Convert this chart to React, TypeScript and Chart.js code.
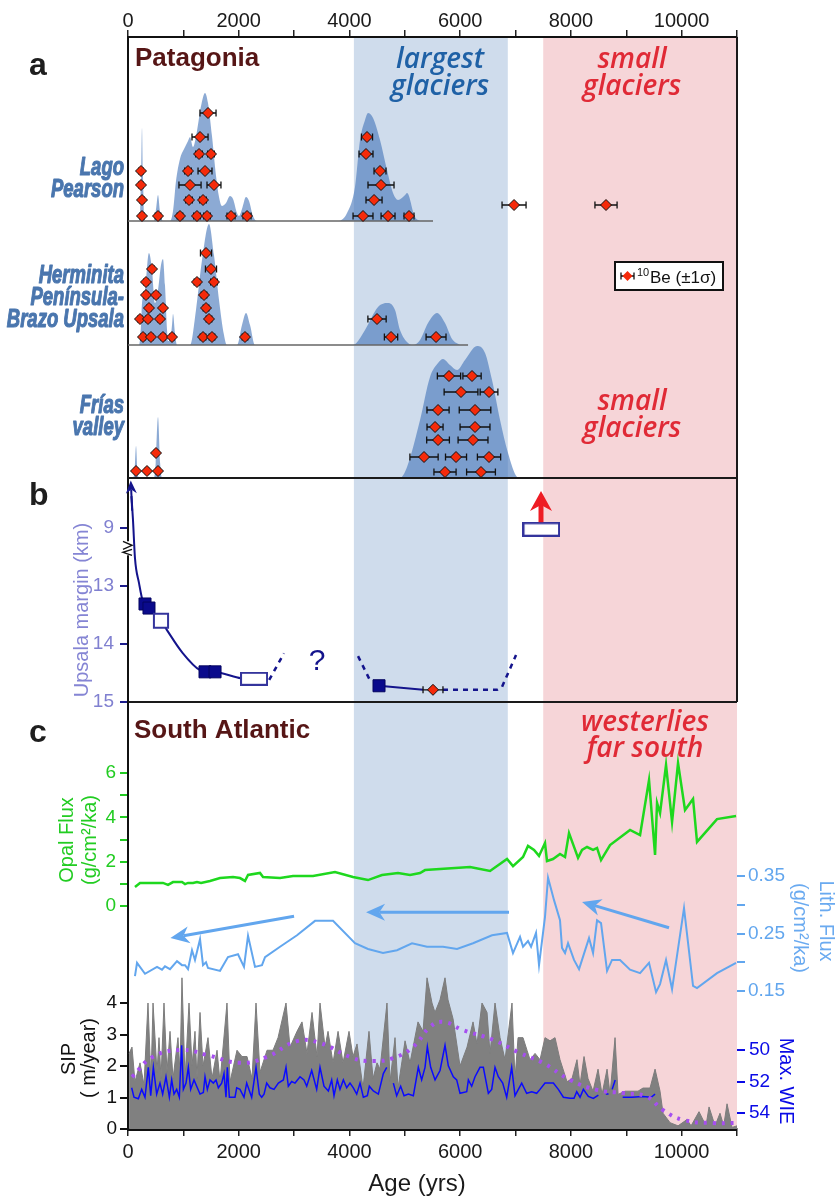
import React, { useEffect, useRef } from 'react';
import { Chart, registerables } from 'chart.js';

Chart.register(...registerables);

// ---------------- ticks ----------------
const ageTicks = [0, 1000, 2000, 3000, 4000, 5000, 6000, 7000, 8000, 9000, 10000, 11000];
const upsalaTicks = [12, 13, 14, 15]; // 12 is printed as "9" (broken axis)
const opalTicks = [0, 1, 2, 3, 4, 5, 6];
const lithTicks = [0.15, 0.2, 0.25, 0.3, 0.35];
const sipTicks = [0, 1, 2, 3, 4];
const wieTicks = [50, 52, 54];

// ---------------- shaded periods (yrs) ----------------
const largestGlaciersPeriod = [4080, 6860];
const smallGlaciersPeriod = [7500, 11000];

// ---------------- panel a: probability density (relative) ----------------
const lagoPearsonPdf = [
  [0, 0], [208, 0], [235, 0.45], [253, 0.93], [271, 0.45], [298, 0], [470, 0], [506, 0.12], [542, 0.26], [578, 0.1], [632, 0],
  [759, 0], [813, 0.1], [867, 0.4], [939, 0.62], [1012, 0.72], [1084, 0.8], [1120, 0.84], [1174, 0.74], [1246, 0.9], [1319, 1.15],
  [1391, 1.28], [1445, 1.18], [1517, 0.85], [1590, 0.45], [1644, 0.24], [1698, 0.15], [1770, 0.18], [1843, 0.25], [1897, 0.22],
  [1969, 0.08], [2005, 0.05], [2059, 0.12], [2132, 0.24], [2186, 0.2], [2258, 0.05], [2330, 0], [3793, 0], [3956, 0.08],
  [4100, 0.34], [4191, 0.81], [4281, 1.01], [4335, 1.08], [4426, 1.03], [4552, 0.81], [4678, 0.51], [4787, 0.28], [4877, 0.21],
  [5004, 0.26], [5040, 0.28], [5184, 0.04], [5275, 0],
];
const herminitaPdf = [
  [0, 0], [199, 0], [235, 0.2], [253, 0.42], [307, 0.55], [361, 0.88], [379, 0.92], [434, 0.75], [488, 0.42], [542, 0.55],
  [596, 0.8], [632, 0.86], [668, 0.6], [705, 0.15], [723, 0.04], [759, 0.04], [795, 0.2], [813, 0.31], [849, 0.12], [885, 0],
  [1120, 0], [1228, 0.35], [1337, 0.85], [1463, 1.21], [1553, 0.9], [1644, 0.45], [1734, 0.1], [1788, 0], [1969, 0], [2059, 0.2],
  [2132, 0.32], [2204, 0.2], [2294, 0], [4064, 0], [4281, 0.15], [4516, 0.38], [4697, 0.42], [4823, 0.35], [4913, 0.15],
  [5058, 0.02], [5148, 0], [5275, 0.05], [5419, 0.22], [5582, 0.32], [5726, 0.22], [5853, 0.06], [5997, 0],
];
const friasPdf = [
  [0, 0], [90, 0], [120, 0.08], [145, 0.32], [170, 0.08], [199, 0], [470, 0], [500, 0.15], [542, 0.61], [580, 0.15], [614, 0],
  [4913, 0], [5040, 0.11], [5275, 0.58], [5455, 1.01], [5600, 1.15], [5690, 1.19], [5816, 1.13], [5943, 1.08], [6087, 1.18],
  [6304, 1.32], [6449, 1.25], [6575, 0.98], [6720, 0.58], [6864, 0.25], [7027, 0.01], [7081, 0],
];
const lagoPearsonEnd = 5509;
const herminitaEnd = 6142;

// ---------------- panel a: 10Be ages [age, stack level, 1 sigma] ----------------
const lagoPearsonAges = [
  [253, 0.05, 40], [542, 0.05, 50], [939, 0.05, 50], [1246, 0.05, 60], [1427, 0.05, 60], [1861, 0.05, 72], [2150, 0.05, 72],
  [4245, 0.05, 180], [4697, 0.05, 126], [5076, 0.05, 90], [6973, 0.16, 217], [8634, 0.16, 200],
  [253, 0.21, 40], [1102, 0.21, 60], [1355, 0.21, 60], [4444, 0.21, 145],
  [235, 0.36, 40], [1120, 0.36, 200], [1553, 0.36, 126], [4570, 0.36, 235],
  [235, 0.5, 40], [1084, 0.5, 60], [1391, 0.5, 126], [4552, 0.5, 108],
  [1283, 0.67, 60], [1499, 0.67, 60], [4299, 0.67, 126],
  [1301, 0.84, 145], [4317, 0.84, 100], [1445, 1.08, 145],
];
const herminitaAges = [
  [271, 0.08, 40], [415, 0.08, 40], [632, 0.08, 40], [795, 0.08, 40], [1355, 0.08, 50], [1517, 0.08, 50], [2113, 0.08, 50],
  [4751, 0.08, 120], [5564, 0.08, 180],
  [217, 0.26, 40], [361, 0.26, 40], [578, 0.26, 40], [1463, 0.26, 50], [4498, 0.26, 165],
  [379, 0.37, 40], [632, 0.37, 40], [1409, 0.37, 50],
  [325, 0.5, 40], [506, 0.5, 40], [1373, 0.5, 50],
  [325, 0.63, 40], [1246, 0.63, 50], [1553, 0.63, 60],
  [434, 0.76, 40], [1499, 0.76, 100], [1409, 0.92, 100],
];
const friasAges = [
  [145, 0.07, 30], [343, 0.07, 30], [542, 0.07, 30], [506, 0.25, 30],
  [5726, 0.06, 200], [6376, 0.06, 260],
  [5347, 0.21, 255], [5925, 0.21, 190], [6521, 0.21, 210],
  [5600, 0.38, 205], [6232, 0.38, 270],
  [5546, 0.51, 145], [6268, 0.51, 270],
  [5600, 0.68, 200], [6268, 0.68, 285],
  [6015, 0.86, 305], [6521, 0.86, 160],
  [5798, 1.02, 210], [6214, 1.02, 165],
];

// ---------------- panel b: Upsala margin (km, axis broken above 13) ----------------
const upsalaCurve = [
  [62, 11.45], [90, 11.86], [126, 12.52], [199, 12.95], [271, 13.28], [343, 13.36], [596, 13.6], [704, 13.76],
  [975, 14.14], [1301, 14.45], [1481, 14.48], [1680, 14.5], [2041, 14.59], [2276, 14.6],
];
const upsalaLate = [[4534, 14.72], [5330, 14.79]];
const upsalaDash1 = [[2550, 14.62], [2818, 14.16]];
const upsalaDash2 = [[4155, 14.21], [4389, 14.66]];
const upsalaDash3 = [[5690, 14.79], [6665, 14.79], [6755, 14.74], [7009, 14.19]];
const upsalaFilled = [[307, 13.31], [379, 13.38], [1391, 14.48], [1572, 14.48], [4534, 14.72]];
const upsalaOpen = [[596, 13.6]];
const upsalaOpenWide = [[2276, 14.6], [7460, 12.02]];
const upsalaBe = [[5509, 14.79, 180]];

// ---------------- panel c ----------------
const opalFlux = [
  [126, 0.86], [217, 1.04], [343, 1.04], [524, 1.04], [632, 1.04], [723, 0.95], [813, 1.08], [975, 1.08], [1030, 0.99], [1084, 1.04],
  [1174, 1.04], [1246, 1.08], [1319, 1.04], [1481, 1.13], [1662, 1.26], [1897, 1.31], [2023, 1.26], [2113, 1.13], [2168, 1.4],
  [2384, 1.49], [2439, 1.31], [2746, 1.26], [2981, 1.35], [3342, 1.35], [3739, 1.53], [4064, 1.31], [4335, 1.17], [4588, 1.4],
  [4877, 1.49], [5094, 1.4], [5275, 1.49], [5365, 1.62], [5636, 1.67], [6178, 1.76], [6539, 1.58], [6846, 2.12], [6954, 1.8],
  [7135, 2.21], [7225, 2.71], [7334, 2.53], [7424, 2.26], [7532, 2.84], [7568, 2.03], [7677, 2.12], [7803, 2.35], [7894, 2.21],
  [7966, 3.29], [8129, 2.17], [8201, 2.53], [8291, 2.66], [8400, 2.53], [8472, 2.62], [8544, 2.07], [8707, 2.75], [9068, 3.43],
  [9249, 3.2], [9411, 5.68], [9520, 2.3], [9556, 4.65], [9610, 4.19], [9718, 6.36], [9827, 3.79], [9935, 6.45], [10061, 4.33],
  [10206, 4.83], [10278, 2.89], [10639, 3.92], [10983, 4.06],
];
const lithFlux = [
  [126, 0.176], [163, 0.199], [307, 0.18], [524, 0.192], [614, 0.187], [668, 0.193], [759, 0.188], [885, 0.202], [975, 0.195],
  [1030, 0.195], [1084, 0.188], [1156, 0.221], [1210, 0.204], [1301, 0.24], [1355, 0.195], [1409, 0.2], [1445, 0.19], [1662, 0.185],
  [1806, 0.209], [1987, 0.214], [2095, 0.192], [2168, 0.246], [2294, 0.192], [2420, 0.195], [2475, 0.209], [2746, 0.227],
  [3053, 0.247], [3378, 0.272], [3703, 0.272], [4100, 0.233], [4335, 0.223], [4606, 0.216], [4859, 0.221], [5130, 0.233],
  [5401, 0.227], [5690, 0.227], [5943, 0.223], [6232, 0.233], [6575, 0.247], [6846, 0.251], [6954, 0.216], [7081, 0.244],
  [7135, 0.227], [7225, 0.237], [7280, 0.227], [7370, 0.251], [7424, 0.195], [7532, 0.279], [7587, 0.347], [7695, 0.308],
  [7803, 0.273], [7839, 0.225], [7894, 0.216], [7948, 0.233], [8056, 0.204], [8147, 0.188], [8327, 0.242], [8400, 0.216],
  [8472, 0.273], [8544, 0.268], [8653, 0.185], [8743, 0.204], [8887, 0.204], [9068, 0.187], [9249, 0.181], [9411, 0.199],
  [9538, 0.148], [9610, 0.162], [9718, 0.204], [9827, 0.153], [10043, 0.294], [10206, 0.159], [10278, 0.155], [10639, 0.181],
  [10983, 0.199],
];
const lithArrows = [
  { from: [2999, 0.28], to: [766, 0.242] },
  { from: [6882, 0.287], to: [4300, 0.287] },
  { from: [9772, 0.26], to: [8201, 0.305] },
];
const sipArea = [
  [20, 2.4], [72, 2.6], [126, 1.5], [217, 2.1], [289, 1.4], [361, 4.0], [415, 1.5], [452, 4.0], [524, 1.8], [560, 2.9], [596, 1.6],
  [650, 4.0], [704, 1.8], [759, 3.1], [813, 1.6], [903, 2.9], [939, 1.8], [975, 4.8], [1030, 1.6], [1102, 4.0], [1156, 2.0],
  [1210, 3.1], [1246, 1.6], [1301, 3.7], [1355, 2.0], [1445, 2.9], [1517, 1.6], [1608, 2.5], [1662, 1.5], [1788, 4.0], [1843, 1.5],
  [1969, 2.5], [2059, 2.3], [2150, 2.3], [2240, 1.6], [2312, 4.0], [2384, 1.8], [2511, 2.5], [2619, 2.5], [2710, 2.9], [2854, 4.0],
  [2926, 2.6], [3053, 3.1], [3143, 3.4], [3233, 2.4], [3324, 3.7], [3414, 2.3], [3468, 4.0], [3559, 2.6], [3613, 3.1], [3703, 2.1],
  [3794, 3.1], [3884, 2.1], [3992, 3.1], [4064, 2.3], [4137, 2.7], [4245, 1.3], [4353, 3.1], [4426, 1.6], [4498, 2.1], [4552, 1.9],
  [4678, 4.0], [4733, 1.5], [4823, 2.9], [4877, 1.3], [5004, 2.8], [5094, 2.1], [5238, 3.4], [5329, 3.1], [5401, 4.8], [5491, 4.0],
  [5545, 3.7], [5636, 4.1], [5726, 4.8], [5780, 4.1], [5871, 3.5], [5997, 2.0], [6124, 2.6], [6232, 3.4], [6304, 2.7], [6394, 4.0],
  [6485, 3.7], [6539, 2.4], [6629, 4.0], [6720, 2.9], [6810, 2.2], [6936, 4.0], [6990, 1.6], [7045, 2.9], [7135, 2.9], [7207, 2.5],
  [7262, 2.2], [7352, 2.4], [7442, 2.2], [7532, 2.9], [7623, 2.8], [7713, 2.9], [7803, 2.2], [7930, 1.5], [8020, 1.6], [8110, 2.2],
  [8164, 1.4], [8237, 2.3], [8309, 1.6], [8400, 1.2], [8490, 1.9], [8562, 1.1], [8653, 1.9], [8707, 1.1], [8797, 2.9], [8852, 1.1],
  [8978, 1.2], [9068, 1.2], [9212, 1.2], [9302, 1.3], [9429, 1.3], [9520, 1.9], [9610, 1.2], [9664, 0.5], [9791, 0.2], [9935, 0.1],
  [10097, 0.3], [10170, 0.1], [10314, 0.55], [10440, 0.1], [10495, 0.7], [10603, 0.1], [10693, 0.5], [10760, 0.1], [10820, 0.8],
  [10910, 0.05], [11000, 0.1],
];
const sipSmooth = [
  [72, 1.65], [452, 2.29], [975, 2.51], [1427, 2.35], [2023, 2.1], [2511, 2.29], [3053, 2.79], [3468, 2.73], [4064, 2.25],
  [4426, 2.16], [4787, 2.25], [5148, 2.6], [5455, 3.24], [5690, 3.4], [6051, 3.14], [6593, 2.83], [7081, 2.41], [7496, 2.1],
  [7984, 1.56], [8472, 1.24], [8941, 1.14], [9375, 1.02], [9664, 0.6], [10025, 0.29], [10567, 0.19], [10983, 0.19],
];
const maxWie = [
  [66, 52.4], [108, 53.0], [187, 53.1], [247, 52.5], [307, 53.0], [367, 51.1], [410, 52.9], [458, 51.1], [518, 52.8], [578, 52.1],
  [626, 52.8], [686, 51.7], [747, 53.0], [789, 51.9], [831, 52.8], [879, 52.5], [927, 53.0], [969, 49.7], [1000, 52.5], [1048, 52.1],
  [1090, 51.1], [1132, 52.5], [1192, 51.9], [1252, 52.4], [1301, 52.8], [1361, 52.7], [1391, 51.7], [1433, 52.5], [1481, 51.9],
  [1541, 52.1], [1590, 51.9], [1632, 52.4], [1692, 52.1], [1734, 51.5], [1770, 53.0], [1794, 51.1], [1831, 53.0], [1933, 53.0],
  [1963, 52.4], [2023, 52.5], [2095, 53.0], [2144, 52.1], [2234, 53.0], [2312, 51.1], [2372, 52.8], [2415, 53.0], [2457, 52.8],
  [2505, 52.1], [2565, 52.4], [2637, 52.5], [2716, 52.1], [2806, 51.9], [2854, 51.1], [2896, 52.3], [2956, 52.0], [3017, 52.1],
  [3107, 51.7], [3179, 51.9], [3228, 52.3], [3318, 51.3], [3408, 52.5], [3468, 51.1], [3540, 52.3], [3619, 52.6], [3679, 51.9],
  [3721, 52.9], [3781, 51.9], [3829, 52.5], [3890, 51.9], [3950, 52.4], [4010, 52.1], [4070, 52.4], [4131, 52.8], [4191, 52.1],
  [4251, 53.0], [4323, 52.9], [4359, 52.3], [4431, 52.6], [4522, 52.8], [4612, 51.5], [4673, 51.1], [4730, null], [4793, 52.1],
  [4853, 52.9], [4925, 52.3], [4986, 52.9], [5064, 52.8], [5154, 52.9], [5244, 51.1], [5304, 51.9], [5365, 51.1], [5407, 49.8],
  [5467, 51.1], [5546, 51.9], [5636, 51.3], [5726, 49.7], [5786, 51.0], [5876, 51.7], [5937, 51.9], [5997, 52.75], [6118, 52.65],
  [6148, 51.9], [6208, 52.3], [6268, 51.7], [6358, 51.1], [6418, 51.1], [6509, 52.75], [6569, 52.5], [6629, 51.1], [6689, 51.7],
  [6768, 52.1], [6840, 53.0], [6930, 51.1], [6990, 52.9], [7051, 52.5], [7111, 52.1], [7201, 52.75], [7292, 52.65], [7382, 52.75],
  [7442, 52.5], [7532, 52.1], [7683, 52.1], [7773, 52.5], [7864, 53.0], [7984, 53.07], [8056, 53.07], [8105, 52.65], [8165, 53.0],
  [8225, 52.5], [8315, 52.95], [8405, 53.07], [8496, 52.86], [8560, null], [8630, 52.8], [8680, 52.8], [8710, null], [8745, 52.5],
  [8800, 51.9], [8860, null], [8935, 53.0], [9100, 53.0], [9300, 52.95], [9450, 53.0], [9520, 52.8],
];

// ---------------- layout helpers ----------------
const SANS = "'Liberation Sans', Arial, Helvetica, sans-serif";
const HUMAN = "'Open Sans', 'Noto Sans', sans-serif";
const AREA_TOP = 37;
const AREA_BOTTOM = 1129;

function rangeFrom(v1: number, p1: number, v2: number, p2: number) {
  const k = (v2 - v1) / (p2 - p1);
  const atTop = v1 + (AREA_TOP - p1) * k;
  const atBottom = v1 + (AREA_BOTTOM - p1) * k;
  return atTop > atBottom
    ? { min: atBottom, max: atTop, reverse: false }
    : { min: atTop, max: atBottom, reverse: true };
}

const xy = (a: any[]) => a.map(([x, y]) => ({ x, y }));
const xye = (a: any[]) => a.map(([x, y, e]) => ({ x, y, e }));

function rectImage(w: number, h: number, stroke: string, lw: number) {
  const c = document.createElement('canvas');
  c.width = w + lw;
  c.height = h + lw;
  const g = c.getContext('2d')!;
  g.fillStyle = '#fff';
  g.fillRect(lw / 2, lw / 2, w, h);
  g.strokeStyle = stroke;
  g.lineWidth = lw;
  g.strokeRect(lw / 2, lw / 2, w, h);
  return c;
}

function drawArrow(ctx: any, x0: number, y0: number, x1: number, y1: number, color: string, lw: number, len: number, wid: number) {
  const a = Math.atan2(y1 - y0, x1 - x0);
  const ux = Math.cos(a), uy = Math.sin(a);
  const px = -uy, py = ux;
  ctx.save();
  ctx.strokeStyle = color;
  ctx.fillStyle = color;
  ctx.lineWidth = lw;
  ctx.beginPath();
  ctx.moveTo(x0, y0);
  ctx.lineTo(x1 - ux * len * 0.7, y1 - uy * len * 0.7);
  ctx.stroke();
  ctx.beginPath();
  ctx.moveTo(x1, y1);
  ctx.lineTo(x1 - ux * len + px * wid / 2, y1 - uy * len + py * wid / 2);
  ctx.lineTo(x1 - ux * len * 0.7, y1 - uy * len * 0.7);
  ctx.lineTo(x1 - ux * len - px * wid / 2, y1 - uy * len - py * wid / 2);
  ctx.closePath();
  ctx.fill();
  ctx.restore();
}

function text(ctx: any, s: string, x: number, y: number, font: string, color: string, align = 'left', baseline = 'alphabetic', rot = 0, sx = 1, heavy = 0) {
  ctx.save();
  ctx.translate(x, y);
  ctx.rotate(rot);
  ctx.scale(sx, 1);
  ctx.font = font;
  ctx.fillStyle = color;
  ctx.textAlign = align;
  ctx.textBaseline = baseline;
  ctx.fillText(s, 0, 0);
  if (heavy > 0) {
    ctx.strokeStyle = color;
    ctx.lineWidth = heavy;
    ctx.lineJoin = 'round';
    ctx.strokeText(s, 0, 0);
  }
  ctx.restore();
}

function drawErrorBar(ctx: any, xa: number, xb: number, y: number) {
  ctx.beginPath();
  ctx.moveTo(xa, y); ctx.lineTo(xb, y);
  ctx.moveTo(xa, y - 3.5); ctx.lineTo(xa, y + 3.5);
  ctx.moveTo(xb, y - 3.5); ctx.lineTo(xb, y + 3.5);
  ctx.stroke();
}

const figurePlugin = {
  id: 'figure',
  beforeDraw(chart: any) {
    const { ctx, chartArea: ca, scales } = chart;
    const X = (v: number) => scales.x.getPixelForValue(v);
    ctx.save();
    ctx.fillStyle = '#cfdcec';
    ctx.fillRect(X(largestGlaciersPeriod[0]), ca.top, X(largestGlaciersPeriod[1]) - X(largestGlaciersPeriod[0]), ca.bottom - ca.top);
    ctx.fillStyle = '#f6d5d8';
    ctx.fillRect(X(smallGlaciersPeriod[0]), ca.top, X(smallGlaciersPeriod[1]) - X(smallGlaciersPeriod[0]), ca.bottom - ca.top);
    ctx.restore();
  },
  beforeDatasetDraw(chart: any, args: any) {
    const ds = chart.data.datasets[args.index];
    if (!ds.errorBars) return;
    const { ctx, scales } = chart;
    const ys = scales[ds.yAxisID];
    ctx.save();
    ctx.strokeStyle = '#111';
    ctx.lineWidth = 1.3;
    ds.data.forEach((p: any) => {
      drawErrorBar(ctx, scales.x.getPixelForValue(p.x - p.e), scales.x.getPixelForValue(p.x + p.e), ys.getPixelForValue(p.y));
    });
    ctx.restore();
  },
  afterDatasetsDraw(chart: any) {
    const { ctx, chartArea: ca, scales: s } = chart;
    const X = (v: number) => s.x.getPixelForValue(v);
    const yAB = s.yFV.getPixelForValue(0);
    const yBC = s.yB.getPixelForValue(15);
    ctx.save();
    // frame and panel separators
    ctx.strokeStyle = '#1a1a1a';
    ctx.lineWidth = 2;
    ctx.beginPath();
    ctx.moveTo(ca.left, yAB); ctx.lineTo(ca.right, yAB);
    ctx.moveTo(ca.left, yBC); ctx.lineTo(ca.right, yBC);
    ctx.moveTo(ca.right, ca.top); ctx.lineTo(ca.right, yBC);
    ctx.stroke();

    // broken axis mark
    const yBr = s.yB.getPixelForValue(12.35);
    ctx.fillStyle = '#fff';
    ctx.fillRect(ca.left - 2, yBr - 7, 4, 14);
    ctx.strokeStyle = '#111';
    ctx.lineWidth = 1.4;
    ctx.beginPath();
    ctx.moveTo(ca.left - 5, yBr - 7); ctx.lineTo(ca.left + 4, yBr - 3); ctx.lineTo(ca.left - 5, yBr + 1);
    ctx.moveTo(ca.left + 4, yBr + 1); ctx.lineTo(ca.left - 5, yBr + 4); ctx.lineTo(ca.left + 4, yBr + 7);
    ctx.stroke();

    // arrows in panel b
    drawArrow(ctx, X(75), s.yB.getPixelForValue(11.7), X(50), s.yB.getPixelForValue(11.18), '#14148c', 2, 13, 11);
    drawArrow(ctx, X(7460), s.yB.getPixelForValue(11.9), X(7460), s.yB.getPixelForValue(11.36), '#ee1c24', 5, 20, 22);
    // arrows in panel c
    lithArrows.forEach((a) => {
      drawArrow(ctx, X(a.from[0]), s.yLith.getPixelForValue(a.from[1]), X(a.to[0]), s.yLith.getPixelForValue(a.to[1]), '#62a6ee', 3, 19, 17);
    });

    // "?" in panel b
    text(ctx, '?', X(3414), s.yB.getPixelForValue(14.3), `30px ${SANS}`, '#14148c', 'center', 'middle');

    // panel letters
    text(ctx, 'a', 29, 75, `bold 32px ${SANS}`, '#1e1e1e');
    text(ctx, 'b', 29, 505, `bold 32px ${SANS}`, '#1e1e1e');
    text(ctx, 'c', 29, 742, `bold 32px ${SANS}`, '#1e1e1e');

    // panel headings
    text(ctx, 'Patagonia', 135, 66, `bold 26px ${SANS}`, '#561616');
    text(ctx, 'South Atlantic', 134, 738, `bold 26px ${SANS}`, '#561616');

    const blue = '#1f61a6';
    const red = '#e02a36';
    const ann = `italic 600 28px ${HUMAN}`;
    text(ctx, 'largest', X(5636), 68, ann, blue, 'center');
    text(ctx, 'glaciers', X(5636), 95, ann, blue, 'center');
    text(ctx, 'small', X(9104), 68, ann, red, 'center');
    text(ctx, 'glaciers', X(9104), 95, ann, red, 'center');
    text(ctx, 'small', X(9104), 410, ann, red, 'center');
    text(ctx, 'glaciers', X(9104), 437, ann, red, 'center');
    text(ctx, 'westerlies', X(9339), 731, `italic 600 28px ${HUMAN}`, red, 'center');
    text(ctx, 'far south', X(9339), 757, `italic 600 28px ${HUMAN}`, red, 'center');

    // site labels (condensed, heavy)
    const site = `italic bold 25px ${SANS}`;
    const siteC = '#4a76ae';
    const sq = 0.74;
    const hv = 1.1;
    text(ctx, 'Lago', 124, 175, site, siteC, 'right', 'alphabetic', 0, sq, hv);
    text(ctx, 'Pearson', 124, 197, site, siteC, 'right', 'alphabetic', 0, sq, hv);
    text(ctx, 'Herminita', 124, 283, site, siteC, 'right', 'alphabetic', 0, sq, hv);
    text(ctx, 'Península-', 124, 305, site, siteC, 'right', 'alphabetic', 0, sq, hv);
    text(ctx, 'Brazo Upsala', 124, 327, site, siteC, 'right', 'alphabetic', 0, sq, hv);
    text(ctx, 'Frías', 124, 413, site, siteC, 'right', 'alphabetic', 0, sq, hv);
    text(ctx, 'valley', 124, 435, site, siteC, 'right', 'alphabetic', 0, sq, hv);

    // legend box
    ctx.fillStyle = '#fff';
    ctx.fillRect(615, 262, 108, 28);
    ctx.strokeStyle = '#111';
    ctx.lineWidth = 2;
    ctx.strokeRect(615, 262, 108, 28);
    ctx.lineWidth = 1.3;
    drawErrorBar(ctx, 621, 634, 276);
    ctx.fillStyle = '#f52a0a';
    ctx.beginPath();
    ctx.moveTo(627.5, 271); ctx.lineTo(632.5, 276); ctx.lineTo(627.5, 281); ctx.lineTo(622.5, 276);
    ctx.closePath();
    ctx.fill();
    text(ctx, '10', 637, 276, `11px ${SANS}`, '#111');
    text(ctx, 'Be (±1σ)', 650, 283, `17px ${SANS}`, '#111');

    // axis titles
    const mid = 'middle';
    text(ctx, 'Upsala margin (km)', 82, 610, `20px ${SANS}`, '#8585d4', 'center', mid, -Math.PI / 2);
    text(ctx, 'Opal Flux', 67, 840, `20px ${SANS}`, '#22cc22', 'center', mid, -Math.PI / 2);
    text(ctx, '(g/cm²/ka)', 90, 840, `20px ${SANS}`, '#22cc22', 'center', mid, -Math.PI / 2);
    text(ctx, 'SIP', 69, 1059, `20px ${SANS}`, '#111', 'center', mid, -Math.PI / 2);
    text(ctx, '( m/year)', 89, 1058, `20px ${SANS}`, '#111', 'center', mid, -Math.PI / 2);
    text(ctx, 'Lith. Flux', 826, 921, `20px ${SANS}`, '#6aaaf0', 'center', mid, Math.PI / 2);
    text(ctx, '(g/cm²/ka)', 800, 928, `20px ${SANS}`, '#6aaaf0', 'center', mid, Math.PI / 2);
    text(ctx, 'Max. WIE', 786, 1081, `20px ${SANS}`, '#0a0ae6', 'center', mid, Math.PI / 2);
    text(ctx, 'Age (yrs)', 417, 1191, `24px ${SANS}`, '#1a1a1a', 'center');
    ctx.restore();
  },
};

export default function App() {
  const ref = useRef<HTMLCanvasElement>(null);

  useEffect(() => {
    const canvas = ref.current!;
    const rLP = rangeFrom(0, 221, 1, 121);
    const rHP = rangeFrom(0, 345, 1, 245);
    const rFV = rangeFrom(0, 478, 1, 378);
    const rB = rangeFrom(15, 702, 13, 586);
    const rOpal = rangeFrom(0, 906, 6, 773);
    const rLith = rangeFrom(0.15, 991, 0.35, 876);
    const rSIP = rangeFrom(0, 1129, 4, 1003);
    const rWIE = rangeFrom(50, 1050, 54, 1113);

    const tickFont = { family: SANS, size: 19 };
    const setTicks = (vals: number[]) => (sc: any) => { sc.ticks = vals.map((v) => ({ value: v })); };
    // overlapping axes: zero layout width, labels drawn unclipped next to the frame
    const zeroWidth = (sc: any) => { sc.width = 0; sc._computeLabelArea = () => undefined; };
    const yAxis = (r: any, position: string, vals: number[], color: string, tickColor: string, cb: any, pad: number) => ({
      type: 'linear', position, min: r.min, max: r.max, reverse: r.reverse, bounds: 'data',
      afterBuildTicks: setTicks(vals), afterFit: zeroWidth,
      ticks: { color, font: tickFont, padding: pad, callback: cb, autoSkip: false },
      grid: { drawOnChartArea: false, tickLength: 8, color: tickColor, lineWidth: 2 },
      border: { display: false },
    });
    const hidden = (r: any) => ({ type: 'linear', display: false, position: 'left', min: r.min, max: r.max, reverse: r.reverse, bounds: 'data' });
    const xCb = (v: number) => (v % 2000 === 0 && v <= 10000 ? String(v) : '');

    const line = (data: any[], axis: string, color: string, width: number, extra: any = {}) => ({
      type: 'line', data: xy(data), xAxisID: 'x', yAxisID: axis, borderColor: color, borderWidth: width,
      pointRadius: 0, fill: false, tension: 0, spanGaps: false, ...extra,
    });
    const pdf = (data: any[], axis: string) => line(data, axis, 'rgba(0,0,0,0)', 0, {
      fill: 'origin', backgroundColor: 'rgba(70,118,186,0.62)', cubicInterpolationMode: 'monotone',
    });
    const diamonds = (data: any[], axis: string) => ({
      type: 'scatter', data: xye(data), xAxisID: 'x', yAxisID: axis, pointStyle: 'rectRot', pointRadius: 5.5,
      backgroundColor: '#f52a0a', borderColor: '#111', borderWidth: 1, errorBars: true, showLine: false,
    });

    const wideA = rectImage(26, 12, '#34349c', 2);
    const wideB = rectImage(36, 13, '#34349c', 2.5);

    // listed bottom layer first; Chart.js paints the first dataset on top, so the list is reversed
    const layers = [
      pdf(lagoPearsonPdf, 'yLP'),
      pdf(herminitaPdf, 'yHP'),
      pdf(friasPdf, 'yFV'),
      line([[0, 0], [lagoPearsonEnd, 0]], 'yLP', '#666', 1.5),
      line([[0, 0], [herminitaEnd, 0]], 'yHP', '#666', 1.5),
      diamonds(lagoPearsonAges, 'yLP'),
      diamonds(herminitaAges, 'yHP'),
      diamonds(friasAges, 'yFV'),
      line(upsalaCurve, 'yB', '#14148c', 2, { cubicInterpolationMode: 'monotone' }),
      line(upsalaLate, 'yB', '#14148c', 2),
      line(upsalaDash1, 'yB', '#14148c', 2.5, { borderDash: [5, 5] }),
      line(upsalaDash2, 'yB', '#14148c', 2.5, { borderDash: [5, 5] }),
      line(upsalaDash3, 'yB', '#14148c', 2.5, { borderDash: [5, 5] }),
      { type: 'scatter', data: xy(upsalaFilled), xAxisID: 'x', yAxisID: 'yB', pointStyle: 'rect', pointRadius: 8.5, backgroundColor: '#0a0a8c', borderColor: '#050560', borderWidth: 1 },
      { type: 'scatter', data: xy(upsalaOpen), xAxisID: 'x', yAxisID: 'yB', pointStyle: 'rect', pointRadius: 10, backgroundColor: '#fff', borderColor: '#34349c', borderWidth: 2 },
      { type: 'scatter', data: xy(upsalaOpenWide), xAxisID: 'x', yAxisID: 'yB', pointStyle: [wideA, wideB], pointRadius: 10 },
      diamonds(upsalaBe, 'yB'),
      line(sipArea, 'ySIP', '#7c7c7c', 1, { fill: 'origin', backgroundColor: '#808080' }),
      line(maxWie, 'yWIE', '#0a0aff', 1.5),
      line(sipSmooth, 'ySIP', '#a64ff0', 4, { borderDash: [3, 6], borderCapStyle: 'butt', tension: 0.45 }),
      line(lithFlux, 'yLith', '#62a6ee', 2),
      line(opalFlux, 'yOpal', '#1ed81e', 2.5),
    ];

    const chart = new Chart(canvas, {
      type: 'scatter',
      data: { datasets: layers.reverse() },
      options: {
        responsive: false,
        devicePixelRatio: 1,
        animation: false,
        events: [],
        layout: { padding: { left: 128, right: 100, top: 0, bottom: 0 } },
        plugins: { legend: { display: false }, tooltip: { enabled: false } },
        scales: {
          x: {
            type: 'linear', position: 'bottom', min: 0, max: 11000, bounds: 'data',
            afterBuildTicks: setTicks(ageTicks), afterFit: (sc: any) => { sc.height = 69; },
            ticks: { color: '#1a1a1a', font: { family: SANS, size: 20, lineHeight: 1 }, padding: 6, maxRotation: 0, autoSkip: false, callback: xCb },
            grid: { drawOnChartArea: false, tickLength: 7, color: '#222', lineWidth: 1.5 },
            border: { display: true, color: '#111', width: 3 },
          },
          xTop: {
            type: 'linear', position: 'top', min: 0, max: 11000, bounds: 'data',
            afterBuildTicks: setTicks(ageTicks), afterFit: (sc: any) => { sc.height = 37; },
            ticks: { color: '#1a1a1a', font: { family: SANS, size: 20, lineHeight: 1 }, padding: -1, maxRotation: 0, autoSkip: false, callback: xCb },
            grid: { drawOnChartArea: false, tickLength: 7, color: '#222', lineWidth: 1.5 },
            border: { display: true, color: '#111', width: 2 },
          },
          yB: {
            ...yAxis(rB, 'left', upsalaTicks, '#8080d0', '#1c1c8c', (v: number) => (v === 12 ? '9' : String(v)), 6),
            border: { display: true, color: '#111', width: 2 },
          },
          yOpal: yAxis(rOpal, 'left', opalTicks, '#22cc22', '#22cc22', (v: number) => (v % 2 === 0 ? String(v) : ''), 4),
          ySIP: yAxis(rSIP, 'left', sipTicks, '#111', '#111', (v: number) => String(v), 3),
          yLith: yAxis(rLith, 'right', lithTicks, '#62a6ee', '#62a6ee',
            (v: number) => (Math.round(v * 100) % 10 === 5 ? v.toFixed(2) : ''), 3),
          yWIE: yAxis(rWIE, 'right', wieTicks, '#0a0ae6', '#0a0ae6', (v: number) => String(v), 4),
          yLP: hidden(rLP),
          yHP: hidden(rHP),
          yFV: hidden(rFV),
        },
      } as any,
      plugins: [figurePlugin],
    } as any);
    return () => chart.destroy();
  }, []);

  return (
    <div style={{ position: 'absolute', left: 0, top: 0, width: 837, height: 1198, background: '#fff' }}>
      <canvas ref={ref} width={837} height={1198} style={{ display: 'block', width: 837, height: 1198 }} />
    </div>
  );
}
